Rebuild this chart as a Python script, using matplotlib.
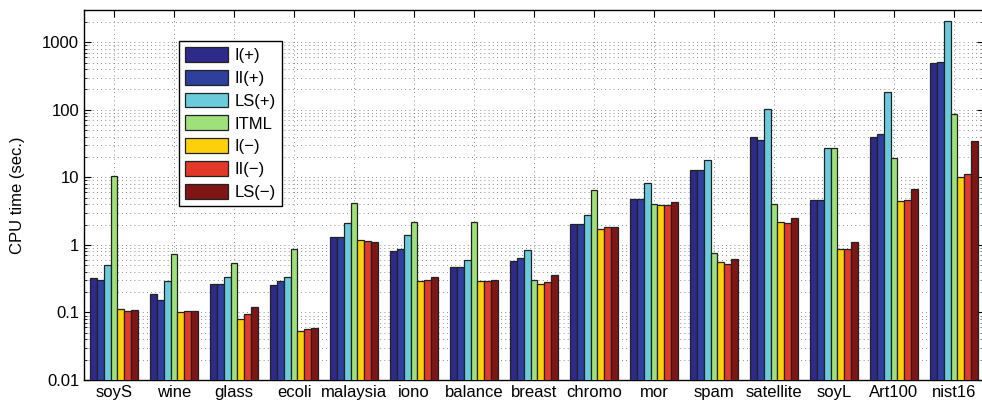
import numpy as np
import matplotlib.pyplot as plt

plt.rcParams['font.family'] = ['Liberation Sans', 'DejaVu Sans']

datasets = ['soyS', 'wine', 'glass', 'ecoli', 'malaysia', 'iono', 'balance', 'breast',
            'chromo', 'mor', 'spam', 'satellite', 'soyL', 'Art100', 'nist16']
methods = ['I(+)', 'II(+)', 'LS(+)', 'ITML', 'I(\u2212)', 'II(\u2212)', 'LS(\u2212)']
colors = ['#2e2a8a', '#2f3f9e', '#6ccbdb', '#9fe07a', '#fcd10c', '#e2392a', '#7e1616']

# CPU time (sec.) per dataset, one list per method
t_I_pos = [0.32, 0.187, 0.263, 0.254, 1.30, 0.81, 0.47, 0.58, 2.03, 4.75, 12.8, 39, 4.6, 39, 489]
t_II_pos = [0.30, 0.152, 0.263, 0.29, 1.30, 0.87, 0.47, 0.64, 2.03, 4.75, 12.8, 35.5, 4.6, 43.5, 506]
t_LS_pos = [0.50, 0.29, 0.334, 0.334, 2.10, 1.40, 0.60, 0.84, 2.76, 8.2, 17.9, 102, 27, 182, 2046]
t_ITML = [10.5, 0.73, 0.54, 0.87, 4.15, 2.17, 2.17, 0.30, 6.47, 4.0, 0.76, 4.0, 27, 19.2, 86]
t_I_neg = [0.112, 0.101, 0.080, 0.053, 1.18, 0.29, 0.29, 0.263, 1.71, 3.88, 0.56, 2.17, 0.87, 4.45, 10.1]
t_II_neg = [0.105, 0.105, 0.095, 0.057, 1.14, 0.30, 0.29, 0.28, 1.83, 3.88, 0.52, 2.1, 0.87, 4.6, 11.1]
t_LS_neg = [0.107, 0.105, 0.12, 0.059, 1.10, 0.334, 0.30, 0.357, 1.83, 4.3, 0.62, 2.49, 1.10, 6.7, 34.3]

series = [t_I_pos, t_II_pos, t_LS_pos, t_ITML, t_I_neg, t_II_neg, t_LS_neg]

fig = plt.figure(figsize=(9.82, 4.07), dpi=100)
ax = fig.add_axes([84 / 982, 27 / 407, 900 / 982, 370 / 407])

x = np.arange(1, len(datasets) + 1)
w = 0.8 / len(series)
for i, (vals, c, lab) in enumerate(zip(series, colors, methods)):
    ax.bar(x + (i - 3) * w, vals, width=w, color=c, edgecolor='#222222',
           linewidth=0.9, label=lab, zorder=3)

ax.set_yscale('log')
ax.set_ylim(0.01, 3000)
ax.set_xlim(0.5, 15.5)
ax.set_xticks(x)
ax.set_xticklabels(datasets, fontsize=12)
ax.set_yticks([0.01, 0.1, 1, 10, 100, 1000])
ax.set_yticklabels(['0.01', '0.1', '1', '10', '100', '1000'], fontsize=12)
ax.set_ylabel('CPU time (sec.)', fontsize=12, labelpad=12)

grid_style = dict(color='#666666', linestyle=(0, (1, 4)), linewidth=0.6, zorder=0)
ax.grid(True, which='major', axis='both', **grid_style)
ax.grid(True, which='minor', axis='y', **grid_style)
ax.tick_params(which='both', direction='in', top=True, right=True)
ax.tick_params(which='major', length=5, labelsize=12)
ax.tick_params(which='minor', length=2.5)
ax.tick_params(axis='x', which='minor', top=False, bottom=False)
for s in ax.spines.values():
    s.set_linewidth(1.0)

leg = ax.legend(loc='upper left', bbox_to_anchor=(0.1056, 0.916), borderaxespad=0,
                fontsize=12, handlelength=2.6, handleheight=1.0, labelspacing=0.4,
                fancybox=False, framealpha=1, edgecolor='black',
                borderpad=0.35, handletextpad=0.4)
leg.get_frame().set_linewidth(1.0)

fig.savefig('out.png', dpi=100)
